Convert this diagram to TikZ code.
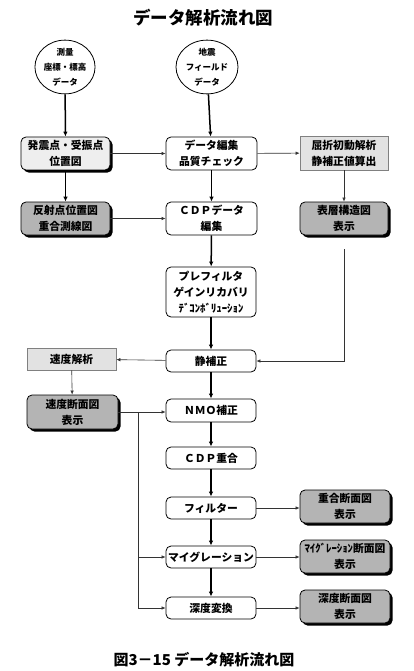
\documentclass[tikz,border=0pt]{standalone}
\usepackage{fontspec}
\setmainfont{Noto Sans CJK JP}
\usetikzlibrary{shapes.geometric,arrows.meta,shadows}
\definecolor{lightg}{HTML}{EEEEEE}
\definecolor{midg}{HTML}{E2E2E2}
\definecolor{darkg}{HTML}{B4B4B4}
\tikzset{
  base/.style={align=center,inner sep=1pt,font=\fontsize{10.8}{16}\selectfont\bfseries},
  rbox/.style={base,draw,rounded corners=5pt,line width=0.8pt,minimum width=90pt,fill=white},
  shbox/.style={rbox,drop shadow={shadow xshift=2.5pt,shadow yshift=-2.5pt,fill=black,opacity=1}},
  sqbox/.style={base,draw=gray,line width=0.8pt,minimum width=89pt,fill=midg},
  oval/.style={ellipse,draw,line width=0.8pt,inner sep=0pt,align=center,font=\fontsize{8.5}{15}\selectfont\bfseries},
  thick arrow/.style={line width=1.5pt,-{Latex[length=5pt,width=4.5pt]}},
  thin arrow/.style={line width=0.6pt,draw=black!80,-{Latex[length=4pt,width=3.5pt]}}
}
\begin{document}
\begin{tikzpicture}[x=1pt,y=-1pt]
\useasboundingbox (0,0) rectangle (413,671);
\node[font=\fontsize{17.5}{20}\selectfont\bfseries] (title) at (203,18) {データ解析流れ図};
\node[oval,minimum width=57pt,minimum height=49pt] (c1) at (65,67) {測量\\座標・標高\\データ};
\node[oval,minimum width=62pt,minimum height=49pt] (c2) at (207,67) {地震\\フィールド\\データ};

\node[shbox,fill=lightg,minimum width=89pt,minimum height=33pt] (n1) at (65.5,153.5) {発震点・受振点\\位置図};
\node[rbox,minimum width=91pt,minimum height=33pt] (n2) at (211.5,153.5) {データ編集\\品質チェック};
\node[sqbox,minimum width=88pt,minimum height=34pt] (n3) at (344,153) {屈折初動解析\\静補正値算出};

\node[shbox,fill=darkg,minimum width=89pt,minimum height=33pt] (n4) at (65.5,218.5) {反射点位置図\\重合測線図};
\node[rbox,minimum width=91pt,minimum height=33pt] (n5) at (211.5,218.5) {ＣＤＰデータ\\編集};
\node[shbox,fill=darkg,minimum width=88pt,minimum height=33pt] (n6) at (344,218.5) {表層構造図\\表示};

\node[rbox,minimum height=50pt] (n7) at (211,292) {プレフィルタ\\ゲインリカバリ\\ﾃﾞｺﾝﾎﾞﾘｭｰｼｮﾝ};
\node[rbox,minimum height=22pt] (n8) at (211,361) {静補正};
\node[sqbox,minimum height=22pt] (n9) at (71.5,359) {速度解析};
\node[shbox,fill=darkg,minimum width=91pt,minimum height=34pt] (n10) at (72.5,412) {速度断面図\\表示};
\node[rbox,minimum height=23pt] (n11) at (211,410.5) {ＮＭＯ補正};
\node[rbox,minimum height=22pt] (n12) at (211,458) {ＣＤＰ重合};
\node[rbox,minimum height=22pt] (n13) at (211,508) {フィルター};
\node[rbox,minimum height=22pt] (n14) at (211,557) {マイグレーション};
\node[rbox,minimum height=22pt] (n15) at (211,608) {深度変換};

\node[shbox,fill=darkg,minimum height=33pt] (r1) at (345,506.5) {重合断面図\\表示};
\node[shbox,fill=darkg,minimum height=33pt] (r2) at (345,556.5) {ﾏｲｸﾞﾚｰｼｮﾝ断面図\\表示};
\node[shbox,fill=darkg,minimum height=33pt] (r3) at (345,606.5) {深度断面図\\表示};

\node[font=\fontsize{15}{17}\selectfont\bfseries] (cap) at (204,660) {図3－15 データ解析流れ図};

% thick arrows
\draw[thick arrow] (c1) -- (n1);
\draw[thick arrow] (c2) -- (n2);
\draw[thick arrow] (n1) -- (n4);
\draw[thick arrow] (n2) -- (n5);
\draw[thick arrow] (n5) -- (n7);
\draw[thick arrow] (n7) -- (n8);
\draw[thick arrow] (n8) -- (n11);
\draw[thick arrow] (n11) -- (n12);
\draw[thick arrow] (n12) -- (n13);
\draw[thick arrow] (n13) -- (n14);
\draw[thick arrow] (n14) -- (n15);

% thin arrows
\draw[thin arrow] (n1) -- (n2);
\draw[thin arrow] (n2) -- (n3);
\draw[thin arrow] (n4) -- (n5);
\draw[thin arrow] (n3) -- (n6);
\draw[thin arrow,shorten <=14pt] (n6.south) |- (n8.east);
\draw[thin arrow] (n8) -- (n9);
\draw[thin arrow] (n9) -- (n10);
\draw[thin arrow] (n10.east) -- (n11.west |- n10.east);
\coordinate (br) at (138,412);
\draw[thin arrow] (br) |- (n14.west);
\draw[thin arrow] (br) |- (n15.west);
\draw[thin arrow] (n13) -- (r1.west |- n13);
\draw[thin arrow] (n14) -- (r2.west |- n14);
\draw[thin arrow] (n15) -- (r3.west |- n15);
\end{tikzpicture}
\end{document}
